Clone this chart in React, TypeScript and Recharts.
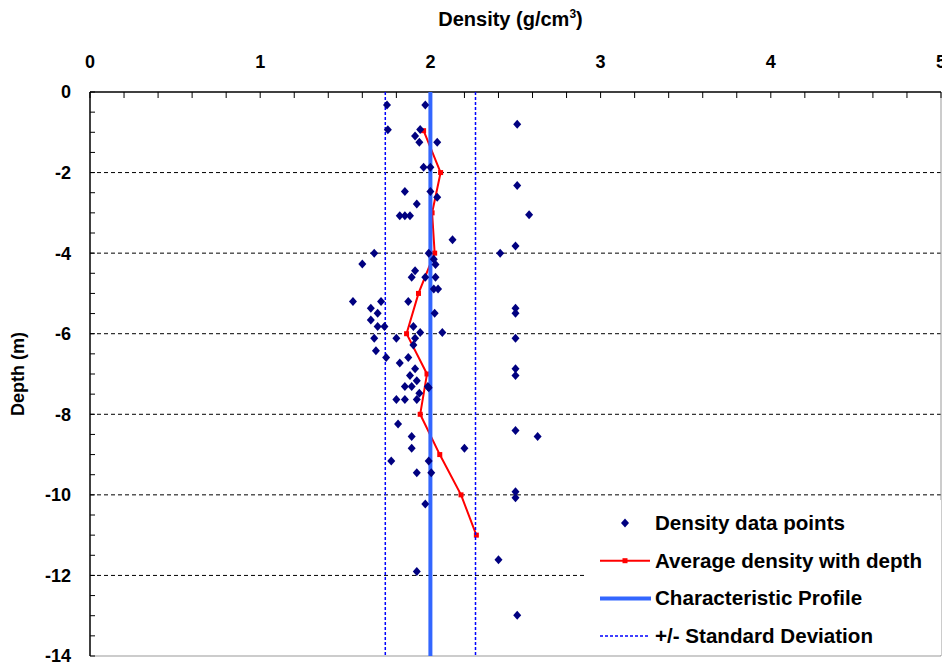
import type { ReactElement } from 'react'
import { Label, Legend, ReferenceLine, Scatter, ScatterChart, XAxis, YAxis } from 'recharts'

const FONT = '"Liberation Sans", Arial, sans-serif'
const NAVY = '#000080'
const RED = '#FF0000'
const PROFILE_BLUE = '#3366FF'
const SD_BLUE = '#0000FF'

// measured density data points (g/cm3) and their depths (m)
const pointDensity = [
  1.745, 1.97, 2.51, 1.75, 1.94, 1.91, 1.935, 2.04, 1.96, 2.0, 2.51, 1.85, 2.0, 2.04, 1.92, 2.58,
  1.82, 1.85, 1.88, 2.13, 2.5, 1.67, 1.99, 2.41, 1.6, 2.02, 2.03, 1.91, 1.89, 1.97, 2.03,
  2.02, 2.045, 1.545, 1.71, 1.87, 1.65, 1.69, 2.025, 2.5, 2.5, 1.65, 1.69, 1.73, 1.9, 1.94, 2.07,
  1.67, 1.8, 1.91, 2.5, 1.9, 1.68, 1.74, 1.87, 1.82, 1.91, 2.5, 2.5, 1.88, 1.92, 1.985, 1.99,
  1.85, 1.89, 1.935, 1.8, 1.85, 1.92,
  1.81, 1.89, 2.5, 2.63, 1.89, 2.2, 1.77, 1.99, 1.92, 2.005, 2.5, 2.5, 1.97, 2.4, 1.92, 2.51
]
const pointDepth = [
  -0.32, -0.32, -0.8, -0.94, -0.93, -1.09, -1.25, -1.25, -1.87, -1.87, -2.32, -2.47, -2.47, -2.61, -2.78, -3.05,
  -3.07, -3.07, -3.07, -3.67, -3.82, -4.0, -4.0, -4.0, -4.27, -4.15, -4.28, -4.44, -4.6, -4.6, -4.6,
  -4.89, -4.89, -5.2, -5.2, -5.2, -5.37, -5.49, -5.49, -5.37, -5.49, -5.66, -5.82, -5.82, -5.82, -5.97, -5.97,
  -6.11, -6.11, -6.11, -6.11, -6.28, -6.42, -6.59, -6.59, -6.73, -6.87, -6.87, -7.04, -7.04, -7.17, -7.31, -7.34,
  -7.31, -7.31, -7.48, -7.63, -7.63, -7.63,
  -8.24, -8.55, -8.4, -8.55, -8.84, -8.84, -9.16, -9.16, -9.45, -9.45, -9.92, -10.07, -10.23, -11.61, -11.9, -12.99
]

// average density with depth
const avgDepth = [-0.96, -2, -3, -4, -5, -6, -7, -8, -9, -10, -11]
const avgDensity = [1.96, 2.06, 2.01, 2.025, 1.93, 1.86, 1.98, 1.94, 2.055, 2.18, 2.27]

// characteristic profile +/- standard deviation
const profileDensity = 2.0
const stdDev = 0.265
const profileDepths = [0, -14]

const gridDepths = [-2, -4, -6, -8, -10, -12]
const densityTicks = Array.from({ length: 26 }, (_, i) => i / 5)
const depthTicks = Array.from({ length: 29 }, (_, i) => -i / 2)

const legendItems = [
  'Density data points',
  'Average density with depth',
  'Characteristic Profile',
  '+/- Standard Deviation'
]

const points = pointDensity.map((x, i) => ({ x, y: pointDepth[i] }))
const avgLine = avgDepth.map((y, i) => ({ x: avgDensity[i], y }))
const profileLine = profileDepths.map((y) => ({ x: profileDensity, y }))
const sdLow = profileDepths.map((y) => ({ x: profileDensity - stdDev, y }))
const sdHigh = profileDepths.map((y) => ({ x: profileDensity + stdDev, y }))

const TICK_STYLE = { fill: '#000', fontSize: 18, fontWeight: 700, fontFamily: FONT }

function Diamond(props: any): ReactElement {
  const { cx, cy } = props
  return (
    <polygon
      points={`${cx},${cy - 4.5} ${cx + 4},${cy} ${cx},${cy + 4.5} ${cx - 4},${cy}`}
      fill={NAVY}
    />
  )
}

function Square(props: any): ReactElement {
  const { cx, cy } = props
  return <rect x={cx - 2.5} y={cy - 2.5} width={5} height={5} fill={RED} />
}

const NoMark = (): ReactElement => <g />

function DensityTitle(props: any): ReactElement {
  const { viewBox } = props
  const cx = viewBox.x + viewBox.width / 2 - 5
  return (
    <text x={cx} y={26} textAnchor="middle" fontFamily={FONT} fontSize={20} fontWeight={700} fill="#000">
      Density (g/cm
      <tspan dy={-8} fontSize={12}>3</tspan>
      <tspan dy={8}>)</tspan>
    </text>
  )
}

function DepthTitle(props: any): ReactElement {
  const { viewBox } = props
  const cx = 18
  const cy = viewBox.y + viewBox.height / 2
  return (
    <text
      x={cx}
      y={cy}
      transform={`rotate(-90 ${cx} ${cy})`}
      textAnchor="middle"
      dominantBaseline="central"
      fontFamily={FONT}
      fontSize={18}
      fontWeight={700}
      fill="#000"
    >
      Depth (m)
    </text>
  )
}

function LegendBox(): ReactElement {
  const rowY = (i: number) => 23 + i * 37.7
  return (
    <svg width={357} height={155} style={{ display: 'block', background: '#fff' }}>
      <rect x={0} y={0} width={357} height={155} fill="#fff" />
      <polygon points={`41,${rowY(0) - 4.5} 45,${rowY(0)} 41,${rowY(0) + 4.5} 37,${rowY(0)}`} fill={NAVY} />
      <line x1={16} x2={66} y1={rowY(1)} y2={rowY(1)} stroke={RED} strokeWidth={2} />
      <rect x={38.5} y={rowY(1) - 2.5} width={5} height={5} fill={RED} />
      <line x1={16} x2={67} y1={rowY(2)} y2={rowY(2)} stroke={PROFILE_BLUE} strokeWidth={4} />
      <line x1={16} x2={66} y1={rowY(3)} y2={rowY(3)} stroke={SD_BLUE} strokeWidth={1.5} strokeDasharray="3 2" />
      {legendItems.map((name, i) => (
        <text key={name} x={71} y={rowY(i) + 7} fontFamily={FONT} fontSize={20.6} fontWeight={700} fill="#000">
          {name}
        </text>
      ))}
    </svg>
  )
}

export default function App(): ReactElement {
  return (
    <div style={{ position: 'absolute', left: 0, top: 0, width: 942, height: 664, background: '#fff' }}>
      <ScatterChart width={942} height={664} margin={{ top: 0, right: 1, bottom: 8, left: 0 }}>
        <XAxis
          type="number"
          dataKey="x"
          orientation="top"
          domain={[0, 5]}
          ticks={densityTicks}
          interval={0}
          height={92}
          axisLine={{ stroke: '#000', strokeWidth: 1.5 }}
          tickLine={{ stroke: '#000' }}
          tickSize={-6}
          tickMargin={30}
          tick={TICK_STYLE}
          tickFormatter={(v: number) => (Number.isInteger(v) ? String(v) : '')}
          allowDataOverflow
        >
          <Label content={<DensityTitle />} />
        </XAxis>
        <YAxis
          type="number"
          dataKey="y"
          domain={[-14, 0]}
          ticks={depthTicks}
          interval={0}
          width={90}
          axisLine={{ stroke: '#000', strokeWidth: 1.5 }}
          tickLine={{ stroke: '#000' }}
          tickSize={-5}
          tickMargin={24}
          tick={TICK_STYLE}
          tickFormatter={(v: number) => (v % 2 === 0 ? String(v) : '')}
          allowDataOverflow
        >
          <Label content={<DepthTitle />} />
        </YAxis>

        {gridDepths.map((d) => (
          <ReferenceLine key={d} y={d} stroke="#000" strokeDasharray="4 3" />
        ))}
        <ReferenceLine y={-14} stroke="#999" />
        <ReferenceLine x={5} stroke="#999" />

        <Scatter
          name="Average density with depth"
          data={avgLine}
          line={{ stroke: RED, strokeWidth: 2 }}
          shape={Square}
          isAnimationActive={false}
        />
        <Scatter
          name="Characteristic Profile"
          data={profileLine}
          line={{ stroke: PROFILE_BLUE, strokeWidth: 4 }}
          shape={NoMark}
          isAnimationActive={false}
        />
        <Scatter
          name="+/- Standard Deviation"
          data={sdLow}
          line={{ stroke: SD_BLUE, strokeWidth: 1.5, strokeDasharray: '3 2' }}
          shape={NoMark}
          isAnimationActive={false}
        />
        <Scatter
          name="sd-high"
          data={sdHigh}
          line={{ stroke: SD_BLUE, strokeWidth: 1.5, strokeDasharray: '3 2' }}
          shape={NoMark}
          isAnimationActive={false}
        />
        <Scatter name="Density data points" data={points} shape={Diamond} isAnimationActive={false} />

        <Legend
          layout="vertical"
          align="center"
          verticalAlign="middle"
          content={<LegendBox />}
          wrapperStyle={{ position: 'absolute', left: 584, top: 500, width: 357, height: 155 }}
        />
      </ScatterChart>
    </div>
  )
}
